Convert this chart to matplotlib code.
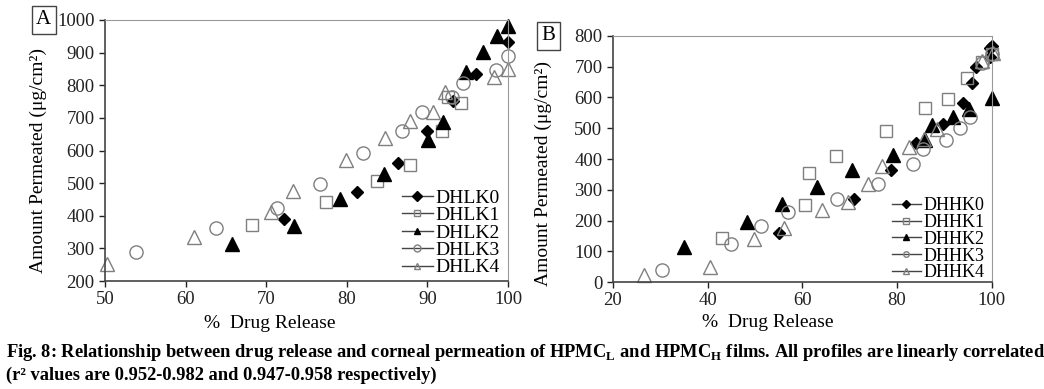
import matplotlib.pyplot as plt
from matplotlib.lines import Line2D

plt.rcParams['font.family'] = ['Liberation Serif', 'DejaVu Serif']
plt.rcParams['mathtext.fontset'] = 'custom'
plt.rcParams['mathtext.rm'] = 'Liberation Serif'
plt.rcParams['mathtext.bf'] = 'Liberation Serif:bold'

# Panel A (HPMC-L films)
a_names = ['DHLK0', 'DHLK1', 'DHLK2', 'DHLK3', 'DHLK4']
a_x = [
    [72.2, 81.3, 86.4, 89.9, 93.2, 96.0, 100.0],
    [68.2, 77.4, 83.8, 87.8, 91.8, 92.5, 94.2],
    [65.8, 73.5, 79.2, 84.6, 90.1, 91.9, 94.8, 96.9, 98.6, 100.0],
    [53.8, 63.8, 71.3, 76.7, 82.0, 86.8, 89.3, 93.1, 94.4, 98.5, 100.0],
    [50.3, 61.0, 70.6, 73.3, 79.9, 84.7, 87.9, 90.7, 92.2, 98.3, 100.0],
]
a_y = [
    [389, 472, 563, 660, 752, 836, 933],
    [372, 441, 508, 556, 660, 765, 745],
    [312, 370, 450, 527, 632, 688, 840, 903, 951, 983],
    [288, 364, 423, 496, 593, 660, 717, 765, 806, 847, 890],
    [251, 336, 410, 476, 571, 637, 690, 717, 780, 826, 850],
]

# Panel B (HPMC-H films)
b_names = ['DHHK0', 'DHHK1', 'DHHK2', 'DHHK3', 'DHHK4']
b_x = [
    [55.1, 71.0, 78.7, 83.9, 89.8, 94.0, 95.8, 96.6, 99.6, 99.6, 100.0],
    [43.0, 60.5, 61.5, 67.1, 77.6, 85.8, 90.8, 94.7, 98.0, 100.0],
    [35.0, 48.3, 55.8, 63.2, 70.5, 79.2, 85.8, 87.4, 91.9, 95.2, 100.0],
    [30.4, 45.0, 51.2, 56.9, 67.4, 76.0, 83.3, 85.5, 90.3, 93.3, 95.4, 98.0, 100.0],
    [26.5, 40.5, 49.7, 56.2, 64.2, 69.7, 73.9, 76.9, 82.6, 85.7, 88.4, 98.0, 100.2],
]
b_y = [
    [160, 271, 365, 452, 515, 583, 648, 699, 761, 732, 767],
    [143, 251, 354, 410, 492, 567, 595, 665, 715, 742],
    [114, 195, 253, 309, 365, 412, 461, 509, 537, 561, 599],
    [38, 125, 182, 228, 269, 320, 385, 434, 463, 502, 537, 713, 742],
    [22, 49, 139, 177, 235, 260, 320, 377, 439, 464, 499, 718, 746],
]

styles = [
    dict(marker='D', mfc='black', mec='black', ms=6.5),
    dict(marker='s', mfc='none', mec='#7f7f7f', ms=9),
    dict(marker='^', mfc='black', mec='black', ms=9.5),
    dict(marker='o', mfc='none', mec='#7f7f7f', ms=9.5),
    dict(marker='^', mfc='none', mec='#7f7f7f', ms=10),
]


def draw(ax, xs, ys, names, xlim, ylim, xt, yt, tag, tagx, ylab_xy, leg_fs, leg_ms, leg_y):
    for x, y, st in zip(xs, ys, styles):
        ax.plot(x, y, ls='none', mew=1.0, clip_on=False, **st)
    ax.set_xlim(*xlim)
    ax.set_ylim(*ylim)
    ax.set_xticks(xt)
    ax.set_yticks(yt)
    for s in ['top', 'right']:
        ax.spines[s].set_color('#9a9a9a')
    for s in ['left', 'bottom']:
        ax.spines[s].set_color('#444444')
        ax.spines[s].set_linewidth(1.2)
    ax.tick_params(direction='out', length=4, width=1, labelsize=13.5, colors='#222222')
    ax.set_xlabel('%  Drug Release', fontsize=14)
    ax.xaxis.set_label_coords(0.41, -0.13)
    ax.set_ylabel('Amount Permeated (μg/cm²)', fontsize=14)
    ax.yaxis.set_label_coords(*ylab_xy)
    handles = []
    for st, n in zip(styles, names):
        s = dict(st)
        s['ms'] = leg_ms
        handles.append(Line2D([], [], color='#444444', lw=1, **s))
    ax.legend(handles, names, loc='lower right', frameon=False, fontsize=leg_fs,
              handlelength=1.6, handletextpad=0.15, labelspacing=-0.01,
              borderaxespad=0.0, bbox_to_anchor=(1.0, leg_y))
    ax.text(tagx, 1.0, tag, transform=ax.transAxes, fontsize=15, ha='center',
            va='center', bbox=dict(boxstyle='square,pad=0.2', fc='white', ec='#444444'))


fig = plt.figure(figsize=(10.44, 3.89), dpi=100)
axA = fig.add_axes([0.1006, 0.2776, 0.386, 0.671])
axB = fig.add_axes([0.587, 0.275, 0.363, 0.6325])

draw(axA, a_x, a_y, a_names, (50, 100), (200, 1000), range(50, 101, 10),
     range(200, 1001, 100), 'A', -0.152, (-0.145, 0.46), 14, 5, -0.012)
draw(axB, b_x, b_y, b_names, (20, 100), (0, 800), range(20, 101, 20),
     range(0, 801, 100), 'B', -0.17, (-0.16, 0.44), 13, 4, -0.027)

fig.text(0.006, 0.095, 'Fig. 8: Relationship between drug release and corneal permeation of '
         r'HPMC$_\mathbf{L}$ and HPMC$_\mathbf{H}$ films. All profiles are linearly correlated',
         fontsize=13.3, fontweight='bold', ha='left', va='center')
fig.text(0.006, 0.035, '(r² values are 0.952-0.982 and 0.947-0.958 respectively)',
         fontsize=13.3, fontweight='bold', ha='left', va='center')

fig.savefig('out.png', dpi=100)
